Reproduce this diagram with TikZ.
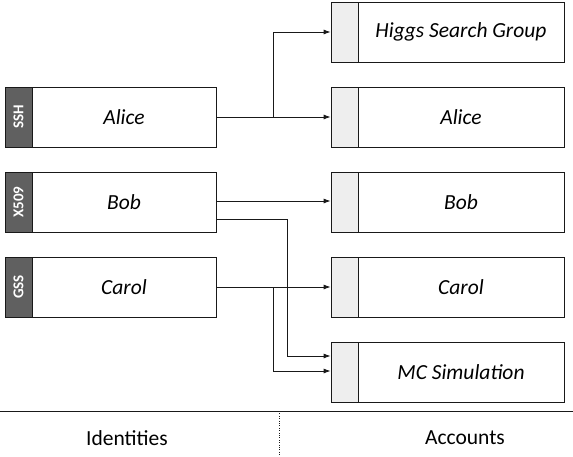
\documentclass[tikz,border=0pt]{standalone}
\usepackage{fontspec}
\setmainfont{Carlito}
\definecolor{tabdark}{RGB}{96,96,96}
\definecolor{tablight}{RGB}{238,238,238}
\definecolor{linegray}{RGB}{25,25,25}
\usetikzlibrary{arrows.meta,calc}

\begin{document}
\begin{tikzpicture}[x=1pt,y=-1pt,
        idtab/.style={draw=linegray,thick,fill=tabdark,minimum width=60pt,minimum height=27pt,
            inner sep=0pt,rotate=90,text=white,font=\fontsize{15}{17}\selectfont\bfseries},
        idbox/.style={draw=linegray,thick,fill=white,minimum width=184pt,minimum height=60pt,
            inner sep=0pt,font=\fontsize{21.5}{24}\selectfont\itshape},
        acctab/.style={draw=linegray,thick,fill=tablight,minimum width=27pt,minimum height=60pt,inner sep=0pt},
        accbox/.style={draw=linegray,thick,fill=white,minimum width=206pt,minimum height=60pt,
            inner sep=0pt,font=\fontsize{21.5}{24}\selectfont\itshape},
        conn/.style={-{Latex[length=7pt,width=5pt]},linegray,thick}]

        \useasboundingbox (0,0) rectangle (573,456);

        % Identities (left)
        \node[idtab] (tSSH)  at (18.5,117) {SSH};
        \node[idbox] (idAlice) at (124,117) {Alice};
        \node[idtab] (tX509) at (18.5,202) {X509};
        \node[idbox] (idBob)   at (124,202) {Bob};
        \node[idtab] (tGSS)  at (18.5,287) {GSS};
        \node[idbox] (idCarol) at (124,287) {Carol};

        % Accounts (right)
        \foreach \nm/\lbl/\yy in {Higgs/Higgs Search Group/32, Alice/Alice/117,
                                  Bob/Bob/202, Carol/Carol/287, MC/MC Simulation/372}{
            \node[acctab] (t\nm) at (344.5,\yy) {};
            \node[accbox] (acc\nm) at (461,\yy) {\lbl};
        }

        % Mappings
        \draw[conn] (idAlice.east) -- (tAlice.west);
        \draw[conn] ($(idAlice.east)+(57,0)$) |- (tHiggs.west);
        \draw[conn] ($(idBob.east)+(0,-1)$) -- ($(tBob.west)+(0,-1)$);
        \draw[conn] ($(idBob.east)+(0,17)$) -- ++(71,0) |- ($(tMC.west)+(0,-16)$);
        \draw[conn] (idCarol.east) -- (tCarol.west);
        \draw[conn] ($(idCarol.east)+(57,0)$) |- ($(tMC.west)+(0,-1)$);

        % Footer
        \draw[linegray,thick] (0,411) -- (573,411);
        \draw[linegray,dotted] (279,411) -- (279,456);
        \node[font=\fontsize{21.5}{24}\selectfont] (lblId)  at (127,438) {Identities};
        \node[font=\fontsize{21.5}{24}\selectfont] (lblAcc) at (465,438) {Accounts};

    \end{tikzpicture}
\end{document}
